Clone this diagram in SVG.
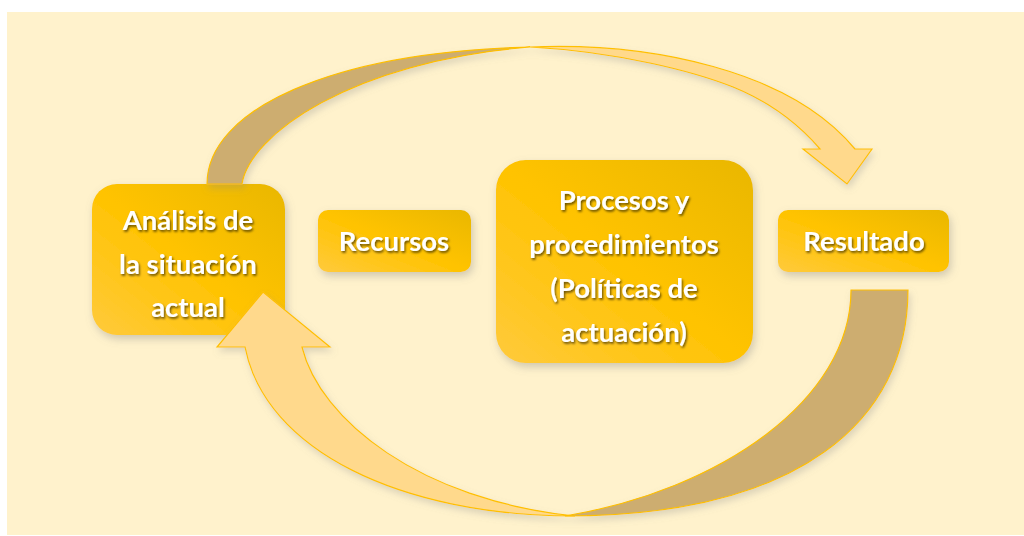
<svg xmlns="http://www.w3.org/2000/svg" width="1024" height="536" viewBox="0 0 1024 536">
  <defs>
    <linearGradient id="gold" x1="0" y1="1" x2="1" y2="0">
      <stop offset="0" stop-color="#FFCA3C"/>
      <stop offset="0.5" stop-color="#FFC300"/>
      <stop offset="1" stop-color="#E9B700"/>
    </linearGradient>
    <filter id="boxShadow" x="-20%" y="-20%" width="140%" height="150%">
      <feDropShadow dx="2" dy="4" stdDeviation="4" flood-color="#7a7a7a" flood-opacity="0.35"/>
    </filter>
    <filter id="arrowShadow" x="-10%" y="-10%" width="120%" height="130%">
      <feDropShadow dx="2" dy="4" stdDeviation="3.5" flood-color="#8a8a8a" flood-opacity="0.3"/>
    </filter>
    <filter id="textShadow" x="-10%" y="-30%" width="120%" height="160%">
      <feDropShadow dx="1.2" dy="1.8" stdDeviation="0.9" flood-color="#000" flood-opacity="0.6"/>
    </filter>
  </defs>
  <style>
    .box { fill: url(#gold); filter: url(#boxShadow); }
    .lbl { font-family: Lato, "Liberation Sans", sans-serif; font-weight: bold; font-size: 27.5px; fill: #FFFFFF; text-anchor: middle; filter: url(#textShadow); }
    .back { fill: #CDAD6F; stroke: #FFC000; stroke-width: 1.2; stroke-linejoin: miter; }
    .front { fill: #FFD98C; stroke: #FFC000; stroke-width: 1.2; stroke-linejoin: miter; }
  </style>

  <rect x="7" y="12" width="1017" height="523" fill="#FFF2CC"/>

  <g id="node-analisis">
    <rect class="box" x="92" y="184" width="193" height="151" rx="25" ry="25"/>
    <text class="lbl" x="188" y="230">Análisis de</text>
    <text class="lbl" x="188" y="274">la situación</text>
    <text class="lbl" x="188" y="317">actual</text>
  </g>

  <g id="node-recursos">
    <rect class="box" x="318" y="210" width="153" height="62" rx="10" ry="10"/>
    <text class="lbl" x="394" y="251">Recursos</text>
  </g>

  <g id="node-procesos">
    <rect class="box" x="496" y="160" width="257" height="203" rx="30" ry="30"/>
    <text class="lbl" x="624" y="210">Procesos y</text>
    <text class="lbl" x="624" y="254">procedimientos</text>
    <text class="lbl" x="624" y="298">(Políticas de</text>
    <text class="lbl" x="624" y="342">actuación)</text>
  </g>

  <g id="node-resultado">
    <rect class="box" x="778" y="210" width="171" height="62" rx="10" ry="10"/>
    <text class="lbl" x="864" y="251">Resultado</text>
  </g>

  <g id="connectors" filter="url(#arrowShadow)">
    <g id="arrow-top">
      <path class="back" d="M207,184 C207,110 330,52 530,47 C350,62 250,135 242,184 Z"/>
      <path class="front" d="M530,47 C650,42 790,70 855,149 L872,149 L847,184 L803,149 L820,149 C795,120 765,100 733,87 C695,72 620,52 530,47 Z"/>
    </g>
    <g id="arrow-bottom">
      <path class="front" d="M245,347 L217,347 L263,292 L330,347 L302,347 C320,420 420,500 575,516 C400,516 265,450 245,347 Z"/>
      <path class="back" d="M851,290 L908,290 C908,420 800,516 565,516 C720,490 851,400 851,290 Z"/>
    </g>
  </g>
</svg>
